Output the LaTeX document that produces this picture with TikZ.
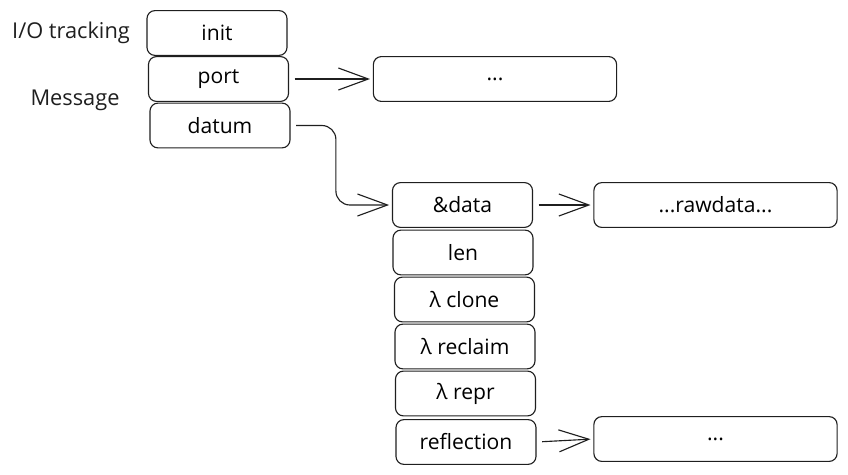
\documentclass[tikz,border=0pt]{standalone}
\usepackage{fontspec}
\setmainfont{Open Sans}
\usetikzlibrary{arrows.meta}

\tikzset{
  field/.style={draw=black!88, thick, rounded corners=0.2cm,
    minimum width=3.5cm, minimum height=1.12cm, inner sep=0pt,
    font=\fontsize{15}{17}\selectfont},
  wide/.style={field, minimum width=6.08cm},
  lbl/.style={font=\fontsize{15.5}{17}\selectfont, text=black!88},
  ptr/.style={draw=black!88, thick,
    -{Straight Barb[length=0.75cm,width=0.55cm]},
    shorten <=4pt, shorten >=2pt}
}

\begin{document}
\begin{tikzpicture}[x=0.025cm, y=-0.025cm]
\useasboundingbox (0,0) rectangle (848,474);

% message struct
\node[lbl] (iotrack) at (71,33) {I/O tracking};
\node[lbl] (msg) at (75,100) {Message};
\node[field] (init) at (217,33) {init};
\node[field] (port) at (218.5,79) {port};
\node[field] (datum) at (220,125.5) {datum};

% port target
\node[wide] (portval) at (495,79) {...};
\draw[ptr] (port.east) -- (portval.west);

% datum struct
\node[field] (data) at (462.5,205) {\&data};
\node[field] (len) at (463,252.5) {len};
\node[field] (clone) at (464.5,299.5) {λ clone};
\node[field] (reclaim) at (465,346.5) {λ reclaim};
\node[field] (repr) at (465.5,393.5) {λ repr};
\node[field] (reflection) at (466,442) {reflection};

% datum -> &data
\draw[ptr, rounded corners=0.35cm] (datum.east) -| ([xshift=-1.4cm]data.west) -- (data.west);

% raw data
\node[wide] (rawdata) at (715.5,205) {...rawdata...};
\draw[ptr] (data.east) -- (rawdata.west);

% reflection target
\node[wide] (reflval) at (715.5,439) {...};
\draw[ptr] (reflection.east) -- (reflval.west);

\end{tikzpicture}
\end{document}
